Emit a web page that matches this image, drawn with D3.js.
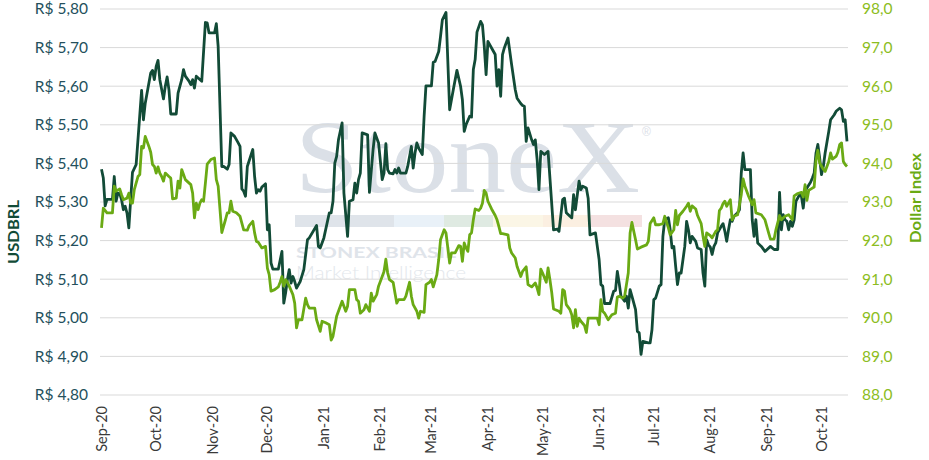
<!DOCTYPE html>
<html>
<head>
<meta charset="utf-8">
<script src="https://cdn.jsdelivr.net/npm/d3@7"></script>
<style>
  body { margin: 0; background: #fff; }
  svg { display: block; }
</style>
</head>
<body>
<svg id="chart" width="929" height="460"></svg>
<script>
// data: days counted from START_DATE
const START_DATE = "2020-09-01";
const LAST_DAY = 409;

const monthLabels = ["Sep-20", "Oct-20", "Nov-20", "Dec-20", "Jan-21", "Feb-21", "Mar-21",
  "Apr-21", "May-21", "Jun-21", "Jul-21", "Aug-21", "Sep-21", "Oct-21"];

const brlTicks = [4.8, 4.9, 5.0, 5.1, 5.2, 5.3, 5.4, 5.5, 5.6, 5.7, 5.8];
const dxyTicks = [88, 89, 90, 91, 92, 93, 94, 95, 96, 97, 98];

const usdDays = [0, 1, 2, 3, 6, 7, 8, 9, 10, 11, 12, 13, 14, 15, 16, 17, 19, 22, 23, 24, 27, 28, 29, 30, 31, 32, 34, 35, 36, 37, 38, 41, 42, 44, 45, 46, 48, 49, 50, 51, 52, 55, 57, 58, 59, 62, 63, 64, 66, 67, 69, 70, 71, 73, 75, 76, 77, 78, 79, 80, 83, 84, 85, 86, 87, 88, 90, 91, 92, 93, 94, 97, 99,
  100, 101, 102, 103, 104, 105, 106, 107, 109, 111, 113, 114, 118, 119, 120, 122, 125, 126, 127, 128, 129, 130, 132, 133, 135, 136, 138, 139, 140, 141, 142, 143, 146, 147, 149, 150, 152, 154, 155, 156, 157, 158, 160, 161, 162, 163, 164, 167, 168, 170, 171, 172, 173, 174, 176, 177, 178, 181, 182, 183, 185, 186, 187, 189, 191, 193, 195, 197, 198, 199,
  200, 202, 203, 204, 205, 206, 208, 209, 210, 211, 212, 214, 216, 217, 218, 219, 220, 221, 223, 225, 227, 228, 230, 231, 232, 233, 234, 236, 237, 238, 239, 240, 241, 243, 245, 248, 250, 251, 253, 254, 255, 257, 258, 259, 260, 262, 263, 264, 266, 267, 268, 271, 273, 274, 275, 276, 279, 281, 282, 283, 284, 285, 287, 288, 289, 290, 291, 293, 294, 295, 296, 297,
  300, 301, 302, 303, 304, 306, 307, 308, 309, 311, 312, 313, 314, 315, 316, 317, 318, 320, 321, 322, 323, 324, 326, 327, 329, 330, 331, 332, 333, 334, 335, 336, 337, 338, 340, 341, 342, 343, 344, 345, 346, 347, 349, 350, 351, 352, 353, 356, 357, 358, 359, 360, 362, 364, 367, 369, 371, 372, 373, 374, 375, 376, 377, 378, 379, 380, 381, 383, 384, 385, 386, 387, 389, 390, 391, 392, 393, 394, 395, 396, 397, 399,
  400, 402, 403, 405, 406, 407, 408, 409];
const usdValues = [5.385, 5.362, 5.290, 5.307, 5.307, 5.366, 5.302, 5.323, 5.322, 5.306, 5.280, 5.289, 5.271, 5.233, 5.306, 5.377, 5.397, 5.589, 5.513, 5.556, 5.634, 5.641, 5.617, 5.651, 5.667, 5.617, 5.567, 5.600, 5.624, 5.591, 5.528, 5.528, 5.582, 5.617, 5.643, 5.626, 5.613, 5.604, 5.617, 5.595, 5.626, 5.613, 5.765, 5.764, 5.738, 5.738, 5.762, 5.703, 5.392, 5.392, 5.385, 5.397, 5.479, 5.470, 5.453, 5.444, 5.334, 5.328, 5.315, 5.392, 5.436, 5.366, 5.323, 5.332, 5.328, 5.339, 5.347, 5.228, 5.241, 5.142, 5.126, 5.126, 5.172,
  5.038, 5.064, 5.099, 5.125, 5.090, 5.107, 5.094, 5.077, 5.094, 5.125, 5.202, 5.207, 5.239, 5.185, 5.181, 5.207, 5.272, 5.272, 5.302, 5.401, 5.418, 5.461, 5.505, 5.323, 5.211, 5.302, 5.306, 5.349, 5.323, 5.358, 5.375, 5.479, 5.474, 5.325, 5.436, 5.479, 5.453, 5.358, 5.375, 5.451, 5.384, 5.375, 5.373, 5.384, 5.375, 5.388, 5.375, 5.375, 5.392, 5.444, 5.388, 5.427, 5.453, 5.440, 5.423, 5.522, 5.601, 5.601, 5.662, 5.664, 5.690, 5.729, 5.772, 5.791, 5.539, 5.591, 5.641, 5.600, 5.565, 5.483,
  5.500, 5.522, 5.520, 5.643, 5.669, 5.740, 5.768, 5.759, 5.703, 5.630, 5.716, 5.699, 5.682, 5.600, 5.643, 5.574, 5.682, 5.699, 5.725, 5.656, 5.591, 5.569, 5.555, 5.550, 5.548, 5.457, 5.492, 5.461, 5.449, 5.461, 5.410, 5.332, 5.431, 5.423, 5.431, 5.228, 5.230, 5.224, 5.306, 5.310, 5.272, 5.263, 5.259, 5.319, 5.280, 5.354, 5.332, 5.341, 5.336, 5.310, 5.215, 5.220, 5.151, 5.086, 5.082, 5.037, 5.037, 5.069, 5.071, 5.120, 5.090, 5.056, 5.043, 5.056, 5.025, 5.073, 5.056, 5.021, 4.965, 4.961, 4.905, 4.939,
  4.935, 4.935, 4.969, 5.047, 5.051, 5.082, 5.086, 5.211, 5.254, 5.259, 5.228, 5.181, 5.185, 5.133, 5.086, 5.116, 5.116, 5.185, 5.250, 5.228, 5.194, 5.211, 5.198, 5.181, 5.177, 5.116, 5.082, 5.202, 5.189, 5.183, 5.164, 5.185, 5.194, 5.220, 5.237, 5.244, 5.224, 5.198, 5.228, 5.254, 5.250, 5.263, 5.272, 5.280, 5.375, 5.427, 5.384, 5.384, 5.254, 5.211, 5.254, 5.194, 5.185, 5.172, 5.185, 5.177, 5.177, 5.325, 5.228, 5.267, 5.254, 5.250, 5.228, 5.250, 5.237, 5.254, 5.302, 5.319, 5.315, 5.284, 5.328, 5.336, 5.351, 5.362, 5.375, 5.427, 5.449, 5.414, 5.371, 5.392, 5.427, 5.483,
  5.513, 5.526, 5.535, 5.543, 5.539, 5.509, 5.513, 5.457];

const dxyDays = [0, 1, 3, 6, 7, 8, 10, 11, 12, 14, 15, 16, 17, 18, 20, 21, 22, 23, 24, 26, 27, 28, 29, 30, 31, 32, 33, 34, 35, 37, 38, 39, 41, 42, 43, 44, 45, 46, 49, 50, 51, 52, 53, 54, 55, 56, 57, 58, 60, 62, 63, 64, 66, 68, 69, 70, 71, 72, 74, 76, 78, 80, 81, 83, 84, 85, 86, 88, 90, 91, 92, 93, 95, 97, 98, 99,
  100, 101, 102, 103, 105, 106, 107, 108, 110, 112, 113, 114, 117, 118, 120, 121, 123, 125, 126, 127, 129, 131, 132, 134, 135, 136, 139, 140, 141, 142, 144, 145, 147, 148, 149, 151, 152, 154, 155, 156, 157, 158, 160, 161, 162, 163, 166, 167, 169, 170, 171, 173, 174, 175, 177, 178, 180, 181, 182, 184, 185, 186, 188, 189, 191, 192, 194, 196, 197, 198, 199,
  200, 201, 202, 203, 204, 205, 207, 208, 209, 210, 211, 212, 214, 216, 217, 218, 219, 220, 223, 224, 225, 227, 228, 230, 231, 233, 234, 236, 238, 239, 240, 241, 242, 244, 245, 246, 247, 248, 251, 252, 253, 254, 255, 257, 258, 259, 260, 261, 262, 263, 265, 266, 267, 269, 272, 273, 274, 275, 276, 278, 280, 282, 283, 284, 286, 287, 289, 290, 291, 293, 294, 296, 299,
  300, 301, 303, 304, 305, 306, 308, 309, 311, 312, 314, 315, 316, 317, 319, 321, 322, 323, 324, 326, 327, 329, 330, 331, 332, 334, 335, 337, 338, 339, 340, 341, 342, 343, 345, 346, 347, 349, 351, 352, 353, 355, 357, 358, 359, 362, 364, 366, 367, 369, 370, 372, 373, 375, 377, 379, 380, 382, 384, 385, 386, 387, 388, 390, 391, 392, 393, 394, 396, 397, 399,
  400, 401, 403, 404, 405, 406, 407, 408, 409];
const dxyValues = [92.33, 92.84, 92.72, 92.72, 93.41, 93.28, 93.34, 93.19, 93.06, 93.10, 93.23, 92.97, 92.97, 93.32, 93.66, 93.71, 94.44, 94.40, 94.70, 94.44, 94.29, 93.97, 93.92, 93.75, 93.91, 93.75, 93.66, 93.54, 93.75, 93.66, 93.62, 93.08, 93.10, 93.54, 93.36, 93.84, 93.71, 93.58, 93.45, 93.23, 92.59, 92.97, 92.80, 92.97, 93.06, 93.02, 93.49, 93.98, 94.10, 94.14, 93.58, 93.41, 92.21, 92.54, 92.72, 92.72, 93.02, 92.76, 92.72, 92.63, 92.28, 92.27, 92.39, 92.50, 92.20, 91.98, 91.96, 91.81, 91.85, 91.29, 91.12, 90.69, 90.73, 90.80, 90.92, 91.07,
  90.82, 90.99, 90.92, 90.82, 90.60, 90.38, 89.74, 89.95, 89.95, 90.51, 90.34, 90.25, 90.25, 89.95, 89.65, 89.91, 89.87, 89.82, 89.42, 89.52, 90.04, 90.30, 90.43, 90.17, 90.30, 90.73, 90.73, 90.47, 90.43, 90.12, 90.21, 90.34, 90.17, 90.64, 90.43, 90.60, 90.82, 91.07, 91.20, 91.52, 91.16, 90.99, 90.92, 90.64, 90.38, 90.47, 90.47, 90.56, 90.92, 90.56, 90.34, 90.17, 89.99, 90.17, 90.14, 90.86, 90.92, 90.99, 90.80, 91.12, 91.51, 92.02, 92.28, 92.20, 91.42, 91.68, 91.68, 91.87, 91.85, 91.46, 91.94,
  91.81, 91.72, 92.15, 92.20, 92.54, 92.82, 92.78, 92.84, 92.97, 93.30, 93.23, 93.02, 92.82, 92.65, 92.54, 92.37, 92.18, 92.18, 92.15, 91.81, 91.68, 91.55, 91.33, 91.07, 91.20, 91.32, 90.86, 90.80, 90.90, 90.77, 90.60, 91.26, 91.16, 90.92, 91.29, 90.99, 90.66, 90.23, 90.17, 90.12, 90.73, 90.69, 90.34, 90.21, 90.08, 89.74, 90.21, 89.78, 89.99, 89.91, 89.80, 89.62, 89.99, 89.99, 89.99, 89.82, 90.47, 90.17, 90.12, 89.95, 90.08, 90.12, 90.54, 90.56, 90.51, 90.56, 91.16, 92.20, 92.47, 92.02, 91.78, 91.83, 91.89,
  91.98, 92.44, 92.59, 92.41, 92.41, 92.41, 92.44, 92.63, 92.33, 92.15, 92.28, 92.78, 92.41, 92.65, 92.76, 92.89, 92.97, 92.76, 92.90, 92.82, 92.65, 92.44, 92.11, 91.85, 92.20, 92.13, 92.07, 92.24, 92.28, 92.78, 92.84, 92.96, 93.02, 92.89, 93.06, 92.54, 92.63, 92.67, 93.19, 93.60, 93.41, 93.15, 92.93, 93.06, 92.72, 92.67, 92.54, 92.20, 92.04, 92.04, 92.28, 92.65, 92.54, 92.63, 92.67, 92.54, 93.16, 93.22, 93.25, 93.13, 93.45, 93.04, 93.30, 93.36, 93.39, 94.08, 94.34, 94.01, 93.85, 93.79, 94.05,
  94.27, 94.11, 94.18, 94.29, 94.49, 94.53, 94.05, 93.97, 93.92];

const DARK = "#124b37";
const LIME = "#6aaa14";

const svg = d3.select("#chart");
const start = d3.timeParse("%Y-%m-%d")(START_DATE);
const toDate = (d) => d3.timeDay.offset(start, d);

const x = d3.scaleTime()
  .domain([start, toDate(LAST_DAY)])
  .range([101.5, 847]);
const yLeft = d3.scaleLinear().domain([4.8, 5.8]).range([395, 9]);
const yRight = d3.scaleLinear().domain([88, 98]).range([395, 9]);

const ptBR = d3.formatLocale({ decimal: ",", thousands: ".", grouping: [3], currency: ["R$ ", ""] });
const fmtLeft = ptBR.format("$.2f");
const fmtRight = ptBR.format(".1f");

// watermark
const wm = svg.append("g");
wm.append("text")
  .attr("x", 295).attr("y", 192)
  .attr("textLength", 345).attr("lengthAdjust", "spacingAndGlyphs")
  .style("font-family", "'Liberation Serif', 'DejaVu Serif', serif")
  .style("font-size", "104px")
  .style("fill", "#dbe0e7")
  .text("StoneX");
wm.append("text")
  .attr("x", 642).attr("y", 136)
  .style("font-family", "'Liberation Sans', sans-serif")
  .style("font-size", "12px")
  .style("fill", "#dbe0e7")
  .text("®");
const barColors = ["#dfe4ea", "#e9f1f8", "#dfeae2", "#fbf6e6", "#fbefe1", "#f4e1e1"];
const barEdges = [295, 394, 444, 493, 543, 591, 642];
wm.selectAll("rect").data(barColors).join("rect")
  .attr("x", (c, i) => barEdges[i])
  .attr("y", 215)
  .attr("width", (c, i) => barEdges[i + 1] - barEdges[i])
  .attr("height", 12)
  .attr("fill", (c) => c);
wm.append("text")
  .attr("x", 296).attr("y", 258)
  .attr("textLength", 160).attr("lengthAdjust", "spacingAndGlyphs")
  .style("font-family", "Lato, sans-serif")
  .style("font-weight", "bold")
  .style("font-size", "15px")
  .style("fill", "#dfe4ea")
  .text("STONEX BRASIL");
wm.append("text")
  .attr("x", 296).attr("y", 279)
  .attr("textLength", 170).attr("lengthAdjust", "spacingAndGlyphs")
  .style("font-family", "Lato, sans-serif")
  .style("font-weight", "300")
  .style("font-size", "18px")
  .style("fill", "#e3e7ec")
  .text("Market Intelligence");

// gridlines
svg.append("g").selectAll("line").data(brlTicks).join("line")
  .attr("x1", 100).attr("x2", 848)
  .attr("y1", (d) => yLeft(d)).attr("y2", (d) => yLeft(d))
  .attr("stroke", "#d9d9d9").attr("stroke-width", 1);

// left axis labels
svg.append("g").selectAll("text").data(brlTicks).join("text")
  .attr("x", 88).attr("y", (d) => yLeft(d)).attr("dy", "0.35em")
  .attr("text-anchor", "end")
  .style("font-family", "Lato, sans-serif").style("font-size", "15.5px")
  .style("fill", "#24505c")
  .text((d) => fmtLeft(d));

// right axis labels
svg.append("g").selectAll("text").data(dxyTicks).join("text")
  .attr("x", 862).attr("y", (d) => yRight(d)).attr("dy", "0.35em")
  .attr("text-anchor", "start")
  .style("font-family", "Lato, sans-serif").style("font-size", "15.5px")
  .style("fill", "#8cbd22")
  .text((d) => fmtRight(d));

// x labels
const parseMonth = d3.timeParse("%b-%y");
svg.append("g").selectAll("text").data(monthLabels).join("text")
  .attr("transform", (m) => `translate(${x(parseMonth(m))},406) rotate(-90)`)
  .attr("dy", "0.35em")
  .attr("text-anchor", "end")
  .style("font-family", "Lato, sans-serif").style("font-size", "14.5px")
  .style("fill", "#3a3a3a")
  .text((m) => m);

// axis titles
svg.append("text")
  .attr("transform", "translate(19,232) rotate(-90)")
  .attr("text-anchor", "middle")
  .attr("textLength", 64).attr("lengthAdjust", "spacingAndGlyphs")
  .style("font-family", "Lato, sans-serif").style("font-weight", "bold").style("font-size", "15px")
  .style("fill", DARK)
  .text("USDBRL");
svg.append("text")
  .attr("transform", "translate(921,198) rotate(-90)")
  .attr("text-anchor", "middle")
  .attr("textLength", 90).attr("lengthAdjust", "spacingAndGlyphs")
  .style("font-family", "Lato, sans-serif").style("font-weight", "bold").style("font-size", "15px")
  .style("fill", LIME)
  .text("Dollar Index");

// series: dark first, lime drawn on top
const usdLine = d3.line()
  .x((d, i) => x(toDate(usdDays[i])))
  .y((d) => yLeft(d));
const dxyLine = d3.line()
  .x((d, i) => x(toDate(dxyDays[i])))
  .y((d) => yRight(d));

svg.append("path")
  .attr("d", usdLine(usdValues))
  .attr("fill", "none").attr("stroke", DARK)
  .attr("stroke-width", 2.8).attr("stroke-linejoin", "round");
svg.append("path")
  .attr("d", dxyLine(dxyValues))
  .attr("fill", "none").attr("stroke", LIME)
  .attr("stroke-width", 2.8).attr("stroke-linejoin", "round");
</script>
</body>
</html>
